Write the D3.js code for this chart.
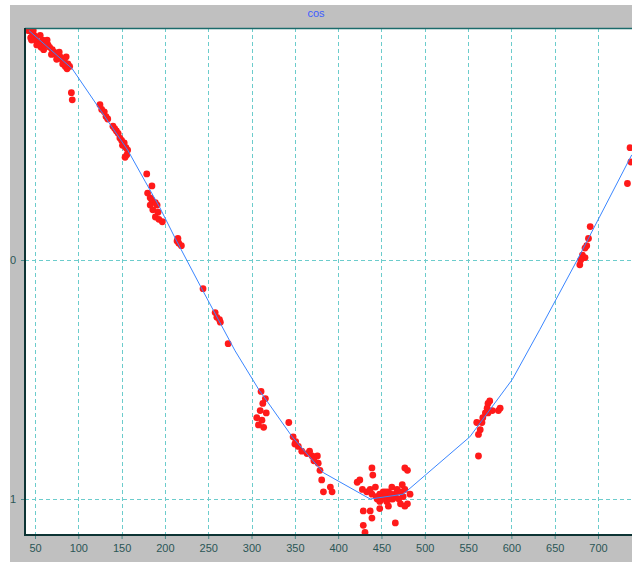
<!DOCTYPE html>
<html>
<head>
<meta charset="utf-8">
<script src="https://cdn.jsdelivr.net/npm/d3@7"></script>
<style>
  html, body { margin: 0; padding: 0; background: #ffffff; }
  svg { display: block; }
  text { font-family: "Liberation Sans", Arial, sans-serif; }
</style>
</head>
<body>
<svg id="chart" width="632" height="562"></svg>
<script>
// Chart title
const title = "cos";

// Axis ticks
const xTicks = [50, 100, 150, 200, 250, 300, 350, 400, 450, 500, 550, 600, 650, 700];
const yTicks = [-1, 0];
const yTickLabels = ["1", "0"];

// Measured samples (red scatter)
const sampleX = [
  43, 47, 49, 45, 51, 54, 57, 59, 63, 65, 67, 70, 72, 74, 77, 79, 81, 84, 86, 88, 90, 87, 52, 60, 64, 42, 48, 56,
  46, 55, 61, 69, 75, 82, 78, 85,
  92, 93,
  125, 127, 130, 132, 134,
  140, 144, 146, 148, 150, 153, 155, 157, 156, 154, 142, 151,
  179, 185, 180, 183, 185, 189, 191, 183, 186, 192, 189, 193, 197,
  214, 216, 219, 215,
  244,
  258, 260, 263, 264,
  273,
  311, 316, 313, 310, 317, 306, 312, 308, 314,
  343, 348, 350, 354, 358, 364, 370, 376, 377, 379, 381, 383, 391, 393, 351, 367, 372,
  439, 440, 422, 428, 433, 439, 445, 448, 452, 458, 462, 468, 472, 475, 480, 477, 474, 454, 456, 463, 472, 477,
  429, 437, 439, 429, 466, 448, 458, 431, 450, 460, 466, 443, 425, 477, 480, 483,
  444, 455, 465, 470, 448, 461, 437,
  573, 572, 570, 573, 567, 560, 566, 564, 562, 587, 585, 562, 578, 575,
  691, 689, 687, 685, 682, 683, 679, 685, 680,
  734, 737, 738
];
const sampleY = [
  0.96, 0.95, 0.94, 0.93, 0.92, 0.91, 0.89, 0.92, 0.91, 0.90, 0.89, 0.88, 0.87, 0.86, 0.85, 0.85, 0.84, 0.83, 0.85, 0.82, 0.81, 0.80, 0.90, 0.88, 0.92, 0.96, 0.96, 0.94,
  0.92, 0.90, 0.90, 0.86, 0.84, 0.82, 0.87, 0.81,
  0.70, 0.67,
  0.65, 0.63, 0.62, 0.60, 0.59,
  0.56, 0.54, 0.53, 0.51, 0.50, 0.49, 0.47, 0.46, 0.44, 0.43, 0.55, 0.48,
  0.36, 0.31, 0.28, 0.26, 0.25, 0.24, 0.23, 0.23, 0.21, 0.20, 0.18, 0.17, 0.16,
  0.08, 0.07, 0.06, 0.09,
  -0.12,
  -0.22, -0.24, -0.25, -0.26,
  -0.35,
  -0.55, -0.58, -0.60, -0.63, -0.64, -0.66, -0.67, -0.69, -0.70,
  -0.68, -0.74, -0.77, -0.78, -0.80, -0.81, -0.82, -0.82, -0.85, -0.88, -0.92, -0.97, -0.95, -0.97, -0.76, -0.80, -0.84,
  -0.87, -0.90, -0.93, -0.96, -0.97, -0.98, -1.00, -0.98, -0.97, -0.97, -0.95, -0.96, -0.97, -0.99, -0.88, -0.87, -0.94, -0.99, -1.01, -1.00, -1.02, -1.03,
  -1.05, -1.05, -1.08, -1.11, -1.10, -1.04, -1.03, -1.14, -1.00, -1.00, -0.98, -0.95, -0.92, -0.96, -1.02, -0.98,
  -0.99, -0.97, -0.99, -1.00, -1.01, -0.98, -0.96,
  -0.60, -0.62, -0.64, -0.64, -0.66, -0.68, -0.68, -0.71, -0.73, -0.62, -0.63, -0.82, -0.63, -0.59,
  0.14, 0.09, 0.06, 0.05, 0.02, 0.01, -0.02, 0.01, 0.00,
  0.32, 0.47, 0.41
];

// Fitted curve (blue polyline)
const fitX = [43, 93, 157, 177, 194, 212, 244, 281, 308, 347, 383, 437, 475, 552, 601, 633, 676, 739];
const fitY = [0.96, 0.80, 0.46, 0.33, 0.22, 0.09, -0.13, -0.38, -0.54, -0.74, -0.89, -1.00, -0.98, -0.74, -0.50, -0.29, 0.00, 0.44];

const svg = d3.select("#chart");
const W = 632, H = 562;

// Frame geometry
const frame = { left: 10, top: 5 };
const plot = { left: 25, top: 28, right: 645, bottom: 535 };

const x = d3.scaleLinear().domain([50, 700]).range([35, 598]);
const y = d3.scaleLinear().domain([0, -1]).range([260, 499]);
const crisp = v => Math.round(v) + 0.5;

// Gray window background
svg.append("rect")
  .attr("x", frame.left).attr("y", frame.top)
  .attr("width", W - frame.left).attr("height", H - frame.top)
  .attr("fill", "#c0c0c0");

// Title
svg.append("text")
  .attr("x", 316).attr("y", 17)
  .attr("text-anchor", "middle")
  .attr("font-size", 11)
  .attr("fill", "#3d5cff")
  .text(title);

// Plot background
svg.append("rect")
  .attr("x", plot.left).attr("y", plot.top)
  .attr("width", plot.right - plot.left).attr("height", plot.bottom - plot.top)
  .attr("fill", "#ffffff");

svg.append("defs").append("clipPath").attr("id", "plotClip")
  .append("rect")
  .attr("x", plot.left).attr("y", plot.top)
  .attr("width", plot.right - plot.left).attr("height", plot.bottom - plot.top);

const inner = svg.append("g").attr("clip-path", "url(#plotClip)");

// Dashed grid
inner.append("g").selectAll("line")
  .data(xTicks).join("line")
  .attr("x1", d => crisp(x(d))).attr("x2", d => crisp(x(d)))
  .attr("y1", plot.top).attr("y2", plot.bottom)
  .attr("stroke", "#6ccccc").attr("stroke-width", 1)
  .attr("stroke-dasharray", "4,3");

inner.append("g").selectAll("line")
  .data(yTicks).join("line")
  .attr("x1", plot.left).attr("x2", plot.right)
  .attr("y1", d => crisp(y(d))).attr("y2", d => crisp(y(d)))
  .attr("stroke", "#6ccccc").attr("stroke-width", 1)
  .attr("stroke-dasharray", "4,3");

// Scatter samples
const samples = sampleX.map((v, i) => ({ x: v, y: sampleY[i] }));
inner.append("g").selectAll("circle")
  .data(samples).join("circle")
  .attr("cx", d => x(d.x)).attr("cy", d => y(d.y))
  .attr("r", 3.4)
  .attr("fill", "#ff1a1a");

// Fitted curve
const fit = fitX.map((v, i) => [v, fitY[i]]);
inner.append("path")
  .datum(fit)
  .attr("d", d3.line().x(d => x(d[0])).y(d => y(d[1])))
  .attr("fill", "none")
  .attr("stroke", "#3a86ff")
  .attr("stroke-width", 1);

// Plot border
svg.append("line")
  .attr("x1", plot.left).attr("x2", plot.right)
  .attr("y1", plot.top + 0.5).attr("y2", plot.top + 0.5)
  .attr("stroke", "#1b6b6b").attr("stroke-width", 1.5);
svg.append("line")
  .attr("x1", plot.left).attr("x2", plot.left)
  .attr("y1", plot.top).attr("y2", plot.bottom + 1)
  .attr("stroke", "#0d3434").attr("stroke-width", 2);
svg.append("line")
  .attr("x1", plot.left - 1).attr("x2", plot.right)
  .attr("y1", plot.bottom).attr("y2", plot.bottom)
  .attr("stroke", "#0d3434").attr("stroke-width", 2);

// Axes
const xAxis = svg.append("g")
  .attr("transform", `translate(0,${plot.bottom + 1})`)
  .call(d3.axisBottom(x).tickValues(xTicks).tickSize(3).tickPadding(5));
const yAxis = svg.append("g")
  .attr("transform", `translate(${plot.left - 1},0)`)
  .call(d3.axisLeft(y).tickValues(yTicks).tickSize(3).tickPadding(5)
    .tickFormat((d, i) => yTickLabels[i]));

[xAxis, yAxis].forEach(g => {
  g.select(".domain").remove();
  g.selectAll(".tick line").attr("stroke", "#4a8a8a");
  g.selectAll(".tick text")
    .attr("font-family", "'Liberation Sans', Arial, sans-serif")
    .attr("font-size", 11)
    .attr("fill", "#2b5656");
});
</script>
</body>
</html>
